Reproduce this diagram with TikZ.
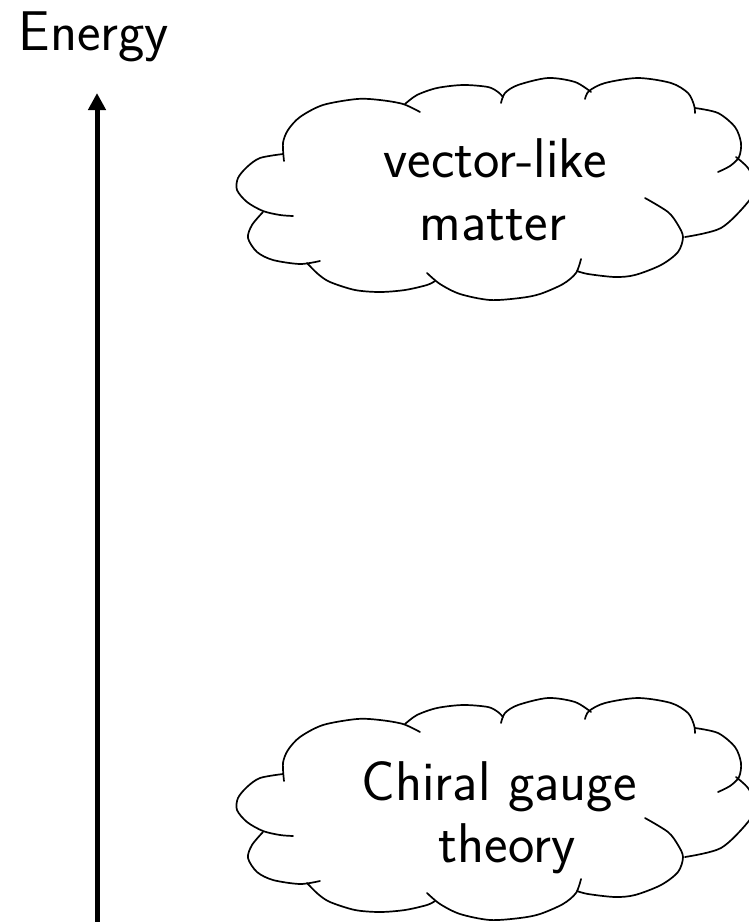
\documentclass[tikz,border=0pt]{standalone}
\usepackage{fontspec}
\usetikzlibrary{arrows.meta}
\tikzset{
  cloudline/.style={line width=1.7pt, line join=round, line cap=round},
  lbl/.style={font=\fontsize{56}{67}\selectfont\sffamily, inner sep=0pt, anchor=base},
  energyaxis/.style={line width=5pt, -{Triangle[length=17pt,width=17pt]}},
  puffcloud/.pic={
    \draw[cloudline] plot[smooth] coordinates {(284,161) (283,143) (288,130) (300,117) (323,105) (357,99) (380,100) (403,104) (420,112)};
    \draw[cloudline] plot[smooth] coordinates {(405,104) (417,95) (437,88) (463,85) (488,87) (498,92) (503,97)};
    \draw[cloudline] plot[smooth] coordinates {(501,103) (505,93) (518,85) (548,78) (575,82) (591,92)};
    \draw[cloudline] plot[smooth] coordinates {(585,99) (589,91) (605,83) (638,78) (671,83) (688,93) (694,105) (695,113)};
    \draw[cloudline] plot[smooth] coordinates {(695,108) (718,113) (735,127) (741,143) (739,157) (730,166) (718,172)};
    \draw[cloudline] plot[smooth] coordinates {(736,157) (748,168) (756,185) (748,202) (721,228) (685,237)};
    \draw[cloudline] plot[smooth] coordinates {(645,198) (668,212) (678,225) (683,237) (678,252) (661,265) (635,275) (615,277) (588,274) (577,271)};
    \draw[cloudline] plot[smooth] coordinates {(581,259) (576,273) (563,284) (540,294) (520,298) (490,300) (460,294) (440,284) (427,273)};
    \draw[cloudline] plot[smooth] coordinates {(307,263) (318,274) (330,282) (355,290) (380,292) (405,290) (427,285) (435,281)};
    \draw[cloudline] plot[smooth] coordinates {(263,212) (252,225) (248,238) (257,252) (273,260) (300,264) (320,261)};
    \draw[cloudline] plot[smooth] coordinates {(283,154) (260,158) (247,167) (238,178) (237,190) (247,202) (263,211) (280,215) (293,216)};
  }
}
\begin{document}
\begin{tikzpicture}[x=1pt, y=-1pt]
  \useasboundingbox (0,0) rectangle (748,922);
  \node[lbl] (energy) at (94,50) {Energy};
  \coordinate (axisbottom) at (97,922);
  \coordinate (axistop) at (97,93);
  \draw[energyaxis] (axisbottom) -- (axistop);
  \pic (upper) at (0,0) {puffcloud};
  \pic (lower) at (0,620) {puffcloud};
  \node[lbl] (vl1) at (495,177) {vector-like};
  \node[lbl] (vl2) at (493,240) {matter};
  \node[lbl] (cg1) at (499,800) {Chiral gauge};
  \node[lbl] (cg2) at (507,862) {theory};
\end{tikzpicture}
\end{document}
